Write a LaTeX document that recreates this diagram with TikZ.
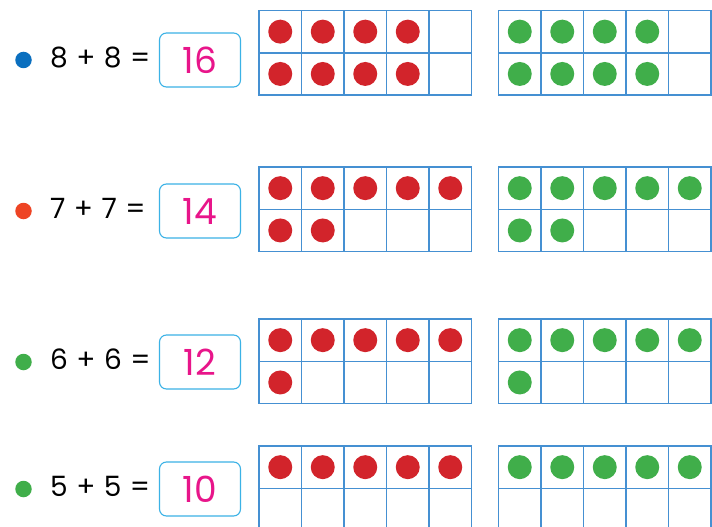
\documentclass[tikz,border=0pt]{standalone}
\usepackage{fontspec}
\setmainfont{Poppins}
\definecolor{gridblue}{HTML}{4590D2}
\definecolor{boxblue}{HTML}{3BB2E6}
\definecolor{dotred}{HTML}{D2242B}
\definecolor{dotgreen}{HTML}{40AE4A}
\definecolor{bulblue}{HTML}{0A6FBF}
\definecolor{bulred}{HTML}{EE4424}
\definecolor{bulgreen}{HTML}{40AE4A}
\definecolor{ansmag}{HTML}{E8158A}
\begin{document}
\begin{tikzpicture}[x=1pt,y=-1pt,
  cellbox/.style={draw=gridblue,line width=1.6pt},
  counter/.style={circle,inner sep=0pt,minimum size=24pt},
  bulletdot/.style={circle,inner sep=0pt,minimum size=16.5pt},
  eqtext/.style={anchor=base west,inner sep=0pt,font=\fontsize{28}{30}\selectfont},
  ansbox/.style={draw=boxblue,line width=1.1pt,rounded corners=7pt,minimum width=81pt,minimum height=54pt,inner sep=0pt},
  anstext/.style={text=ansmag,inner sep=0pt,font=\fontsize{36}{38}\selectfont}]
\useasboundingbox (0,0) rectangle (712,527);
\clip (0,0) rectangle (712,527);
\fill[white] (0,0) rectangle (712,527);
\foreach \top/\yc/\n/\per/\bc/\dd/\ans [count=\i] in
  {10.5/60/8/4/bulblue/8/16,
   167/211/7/5/bulred/7/14,
   319/362/6/5/bulgreen/6/12,
   446/489/5/5/bulgreen/5/10}{
  \node[bulletdot,fill=\bc] (b\i) at (23.5,\yc) {};
  \node[eqtext] (e\i) at (50,\yc+7) {\dd\hspace{8.5pt}+\hspace{8.5pt}\dd\hspace{8.5pt}=};
  \node[ansbox] (box\i) at (200,\yc) {};
  \node[anstext] (a\i) at (box\i.center) {\ans};
  \foreach \fx/\dc [count=\f] in {259/dotred,498.5/dotgreen}{
    \foreach \r in {0,1}{
      \foreach \c in {0,...,4}{
        \draw[cellbox] (\fx+\c*42.5,\top+\r*42.3) rectangle ++(42.5,42.3);
      }
    }
    \foreach \k in {1,...,\n}{
      \pgfmathtruncatemacro{\cc}{mod(\k-1,\per)}
      \pgfmathtruncatemacro{\rr}{int((\k-1)/\per)}
      \node[counter,fill=\dc] (d\i-\f-\k) at (\fx+21.25+\cc*42.5,\top+21.15+\rr*42.3) {};
    }
  }
}
\end{tikzpicture}
\end{document}
